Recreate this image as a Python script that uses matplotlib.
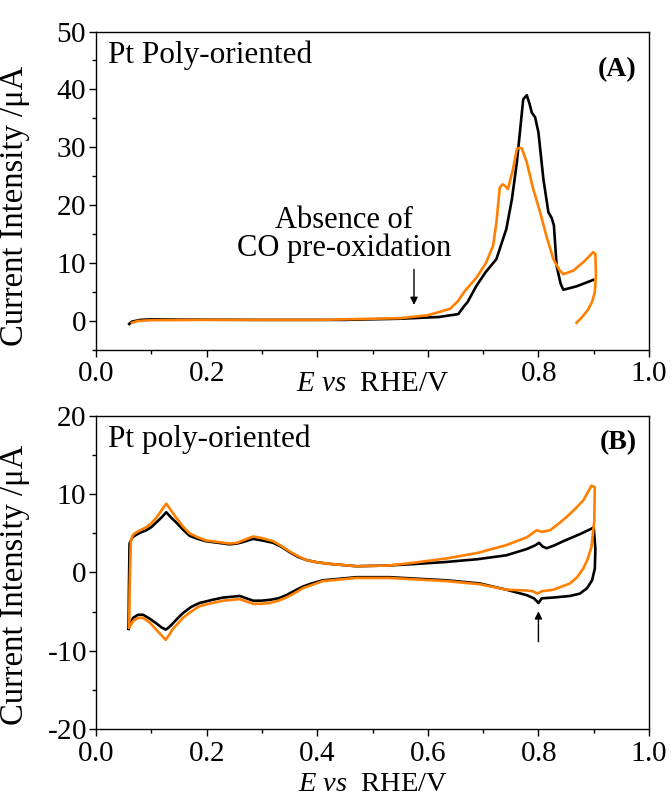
import matplotlib
matplotlib.use("Agg")
import matplotlib.pyplot as plt
from matplotlib.ticker import MultipleLocator

plt.rcParams['font.family'] = ['Liberation Serif', 'DejaVu Serif']
plt.rcParams['mathtext.fontset'] = 'custom'
plt.rcParams['mathtext.rm'] = 'Liberation Serif'
plt.rcParams['mathtext.it'] = 'Liberation Serif:italic'

# ---------------- Panel A data (CO stripping) ----------------
a_black_x = [0.060, 0.065, 0.080, 0.100, 0.150, 0.300, 0.450, 0.550, 0.620, 0.655, 0.665,
             0.672, 0.688, 0.705, 0.724, 0.742, 0.752, 0.761, 0.768, 0.7725, 0.779, 0.784,
             0.788, 0.794, 0.800, 0.809, 0.818, 0.824, 0.828, 0.833, 0.840, 0.845, 0.869, 0.899]
a_black_y = [-0.5, -0.1, 0.2, 0.3, 0.25, 0.2, 0.2, 0.4, 0.7, 1.2, 2.5,
             3.3, 6.1, 8.5, 10.7, 15.9, 21.0, 27.4, 34.0, 38.3, 39.0, 37.5,
             36.0, 35.2, 32.6, 24.5, 18.8, 17.8, 16.5, 9.5, 6.5, 5.4, 6.0, 7.1]

a_orange_x = [0.065, 0.075, 0.100, 0.200, 0.400, 0.550, 0.600, 0.640, 0.655, 0.667, 0.688,
              0.705, 0.718, 0.724, 0.730, 0.735, 0.739, 0.745, 0.754, 0.761, 0.766, 0.770,
              0.779, 0.790, 0.803, 0.815, 0.827, 0.838, 0.845, 0.863, 0.884, 0.899, 0.903,
              0.904, 0.902, 0.897, 0.890, 0.880, 0.869]
a_orange_y = [-0.3, 0.0, 0.15, 0.2, 0.2, 0.5, 1.0, 2.1, 3.5, 5.2, 7.5,
              10.0, 13.0, 17.0, 23.0, 23.6, 23.4, 22.8, 26.2, 29.7, 29.9, 29.8,
              27.4, 23.0, 18.8, 14.5, 10.7, 8.8, 8.1, 8.7, 10.4, 11.9, 11.6,
              8.0, 5.0, 3.3, 2.0, 0.8, -0.3]

# ---------------- Panel B data (blank CVs) ----------------
b_black_x = [0.0588, 0.0595, 0.0606, 0.0650, 0.0697, 0.080, 0.091, 0.100, 0.109, 0.118, 0.127,
             0.136, 0.145, 0.157, 0.169, 0.184, 0.199, 0.220, 0.242, 0.255, 0.266, 0.284,
             0.300, 0.320, 0.335, 0.350, 0.365, 0.380, 0.400, 0.423, 0.471, 0.531, 0.580,
             0.634, 0.690, 0.742, 0.779, 0.795, 0.801, 0.808, 0.815, 0.830, 0.845, 0.875,
             0.896, 0.900,
             0.903, 0.902, 0.897, 0.888, 0.875, 0.857, 0.827, 0.806, 0.800, 0.792, 0.779,
             0.742, 0.694, 0.634, 0.531, 0.471, 0.410, 0.390, 0.374, 0.360, 0.344, 0.330,
             0.314, 0.299, 0.284, 0.272, 0.260, 0.245, 0.230, 0.210, 0.187, 0.172, 0.157,
             0.147, 0.139, 0.132, 0.126, 0.118, 0.109, 0.097, 0.085, 0.076, 0.067, 0.062, 0.0588]
b_black_y = [-7.2, -2.0, 3.7, 4.4, 4.7, 5.1, 5.4, 5.8, 6.4, 7.0, 7.7,
             7.0, 6.4, 5.5, 4.7, 4.3, 4.0, 3.8, 3.6, 3.7, 3.9, 4.3,
             4.1, 3.8, 3.3, 2.6, 2.0, 1.6, 1.3, 1.1, 0.8, 0.9, 1.1,
             1.35, 1.7, 2.2, 3.0, 3.5, 3.8, 3.3, 3.1, 3.5, 4.0, 4.9,
             5.6, 5.8,
             3.0, 0.5, -1.0, -2.0, -2.7, -3.0, -3.2, -3.3, -3.9, -3.3, -2.9,
             -2.2, -1.4, -1.0, -0.6, -0.6, -1.0, -1.4, -1.8, -2.3, -2.9, -3.3,
             -3.5, -3.6, -3.6, -3.3, -3.0, -3.1, -3.2, -3.5, -3.9, -4.4, -5.2,
             -5.9, -6.5, -7.0, -7.3, -7.0, -6.5, -5.9, -5.4, -5.4, -5.8, -6.5, -7.2]

b_orange_x = [0.0600, 0.0608, 0.0630, 0.0660, 0.0697, 0.080, 0.091, 0.100, 0.109, 0.118, 0.127,
              0.136, 0.145, 0.157, 0.169, 0.184, 0.199, 0.220, 0.242, 0.255, 0.266, 0.284,
              0.300, 0.320, 0.335, 0.350, 0.365, 0.380, 0.400, 0.423, 0.471, 0.531, 0.580,
              0.634, 0.690, 0.742, 0.779, 0.797, 0.806, 0.821, 0.836, 0.851, 0.866, 0.881,
              0.896, 0.902,
              0.901, 0.896, 0.889, 0.881, 0.870, 0.857, 0.827, 0.806, 0.798, 0.790, 0.779,
              0.742, 0.694, 0.634, 0.531, 0.471, 0.410, 0.390, 0.374, 0.360, 0.344, 0.330,
              0.314, 0.299, 0.284, 0.272, 0.260, 0.245, 0.230, 0.210, 0.187, 0.172, 0.157,
              0.147, 0.139, 0.132, 0.126, 0.118, 0.109, 0.097, 0.085, 0.076, 0.067, 0.063, 0.0600]
b_orange_y = [-7.0, -2.0, 4.0, 4.7, 5.0, 5.4, 5.8, 6.3, 7.0, 7.9, 8.8,
              7.9, 7.0, 5.9, 5.0, 4.5, 4.1, 3.9, 3.7, 3.8, 4.1, 4.6,
              4.4, 4.0, 3.4, 2.7, 2.1, 1.6, 1.3, 1.1, 0.8, 0.9, 1.3,
              1.8, 2.5, 3.5, 4.5, 5.4, 5.2, 5.4, 6.2, 7.1, 8.1, 9.2,
              11.1, 10.9,
              6.6, 3.3, 1.7, 0.5, -0.6, -1.4, -2.2, -2.4, -2.7, -2.4, -2.3,
              -2.2, -1.5, -1.1, -0.7, -0.7, -1.1, -1.6, -2.0, -2.6, -3.2, -3.6,
              -3.9, -4.0, -4.0, -3.7, -3.4, -3.5, -3.6, -3.9, -4.3, -5.0, -5.8,
              -6.6, -7.2, -8.0, -8.6, -8.0, -7.3, -6.4, -5.8, -5.8, -6.2, -6.7, -7.0]

x_ticks = [0.0, 0.2, 0.4, 0.6, 0.8, 1.0]
a_xticklabels = ['0.0', '0.2', '', '', '0.8', '1.0']   # 0.4/0.6 hidden under the axis title
b_xticklabels = ['0.0', '0.2', '0.4', '0.6', '0.8', '1.0']
a_yticks = [0, 10, 20, 30, 40, 50]
b_yticks = [-20, -10, 0, 10, 20]


def tight(s):
    """Render a tick label through mathtext (same serif font) so its box hugs the glyphs."""
    if s == '':
        return ''
    if s.startswith('-'):
        return '-' + r'$\mathregular{' + s[1:] + '}$'
    return r'$\mathregular{' + s + '}$'


BLACK = '#000000'
ORANGE = '#FF8000'
FS_TICK = 21
FS_YLAB = 23.5
FS_XLAB = 21
FS_XLAB_B = 20.5
FS_TXT = 22.5
FS_PANEL = 20
LW = 1.9

fig = plt.figure(figsize=(6.72, 7.98), dpi=100)
axA = fig.add_axes([0.1429, 0.5614, 0.8229, 0.3991])
axB = fig.add_axes([0.1429, 0.08647, 0.8229, 0.39223])

for ax, labs in ((axA, a_xticklabels), (axB, b_xticklabels)):
    ax.set_xlim(0.0, 1.0)
    ax.set_xticks(x_ticks)
    ax.set_xticklabels([tight(s) for s in labs])
    ax.xaxis.set_minor_locator(MultipleLocator(0.1))
    ax.tick_params(which='both', direction='out', top=False, right=False, labelsize=FS_TICK)
    ax.tick_params(axis='x', which='both', pad=3)
    ax.tick_params(axis='y', which='both', pad=2)
    ax.tick_params(which='major', length=5, width=1)
    ax.tick_params(which='minor', length=3, width=1)
    for s in ax.spines.values():
        s.set_linewidth(1.0)
    ax.set_ylabel('Current Intensity /μA', fontsize=FS_YLAB)

axB.tick_params(axis='x', which='both', pad=4)

# Panel A
axA.plot(a_black_x, a_black_y, color=BLACK, lw=LW)
axA.plot(a_orange_x, a_orange_y, color=ORANGE, lw=LW)
axA.set_ylim(-5, 50)
axA.set_yticks(a_yticks)
axA.set_yticklabels([tight(str(v)) for v in a_yticks])
axA.yaxis.set_minor_locator(MultipleLocator(5))
axA.yaxis.set_label_coords(-0.119, 0.452)
axA.text(0.5, -0.107, r'$E\ vs$  RHE/V', transform=axA.transAxes, fontsize=FS_XLAB,
         ha='center', va='center')
axA.text(0.022, 0.901, 'Pt Poly-oriented', transform=axA.transAxes, fontsize=FS_TXT,
         ha='left', va='baseline')
axA.text(0.978, 0.879, '(A)', transform=axA.transAxes, fontsize=FS_PANEL, fontweight='bold',
         ha='right', va='center')
axA.text(0.448, 15.0, 'Absence of\nCO pre-oxidation', fontsize=FS_TXT - 0.5, ha='center',
         va='center', linespacing=0.95)
axA.annotate('', xy=(0.575, 2.3), xytext=(0.575, 9.4),
             arrowprops=dict(arrowstyle='-|>', color='black', lw=1.0, mutation_scale=11))

# Panel B
axB.plot(b_black_x, b_black_y, color=BLACK, lw=LW)
axB.plot(b_orange_x, b_orange_y, color=ORANGE, lw=LW)
axB.set_ylim(-20, 20)
axB.set_yticks(b_yticks)
axB.set_yticklabels([tight(str(v)) for v in b_yticks])
axB.yaxis.set_minor_locator(MultipleLocator(5))
axB.yaxis.set_label_coords(-0.119, 0.46)
axB.text(0.5, -0.1965, r'$E\ vs$  RHE/V', transform=axB.transAxes, fontsize=FS_XLAB_B,
         ha='center', va='baseline')
axB.text(0.022, 0.901, 'Pt poly-oriented', transform=axB.transAxes, fontsize=FS_TXT,
         ha='left', va='baseline')
axB.text(0.978, 0.914, '(B)', transform=axB.transAxes, fontsize=FS_PANEL, fontweight='bold',
         ha='right', va='center')
axB.annotate('', xy=(0.80, -4.6), xytext=(0.80, -9.2),
             arrowprops=dict(arrowstyle='-|>', color='black', lw=1.0, mutation_scale=11))

fig.savefig('out.png', dpi=100)
